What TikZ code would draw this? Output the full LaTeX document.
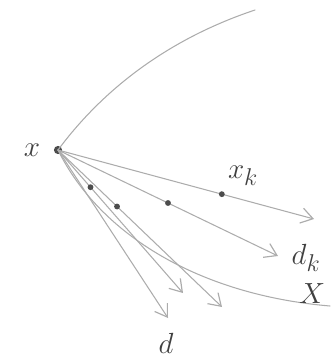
\documentclass[tikz,border=0pt]{standalone}
\usepackage{tikz}
\usetikzlibrary{arrows.meta, positioning, calc}

\begin{document}
\begin{tikzpicture}[
    x=0.03cm, y=-0.03cm,
    pencil/.style={draw=gray!65, line width=0.9pt, line cap=round},
    arrow/.style={pencil, -{Straight Barb[length=10pt, width=13pt, line width=1pt]}},
    dot/.style={circle, fill=gray!60!black, inner sep=0pt, minimum size=5pt},
    lbl/.style={text=black!75, font=\fontsize{30}{36}\selectfont}
]
\useasboundingbox (0,0) rectangle (330,364);

% Punto de partida
\node[dot, minimum size=7pt] (x) at (58,150) {};
\node[lbl] (xlab) at (32,150) {$x$};

% Extremos de las direcciones
\coordinate (e1) at (314,219);
\coordinate (e2) at (278,256);
\coordinate (e3) at (222,307);
\coordinate (e4) at (183,293);
\coordinate (e5) at (168,318);

% Frontera del conjunto
\draw[pencil] (x.center) .. controls (110,80) and (180,35) .. (255,10);
\draw[pencil] (x.center) .. controls (100,235) and (200,295) .. (330,306);

% Direcciones
\draw[arrow] (x.center) -- node[dot, pos=0.64] (xk) {} (e1);
\draw[arrow] (x.center) -- node[dot, pos=0.50] (p2) {} (e2);
\draw[arrow] (x.center) -- node[dot, pos=0.36] (p3) {} (e3);
\draw[arrow] (x.center) -- node[dot, pos=0.26] (p4) {} (e4);
\draw[arrow] (x.center) -- (e5);

% Etiquetas
\node[lbl] (xklab) at (243,176) {$x_k$};
\node[lbl] (dklab) at (306,258) {$d_k$};
\node[lbl] (dlab) at (166,343) {$d$};
\node[lbl] (Xlab) at (312,294) {$X$};

\end{tikzpicture}
\end{document}
